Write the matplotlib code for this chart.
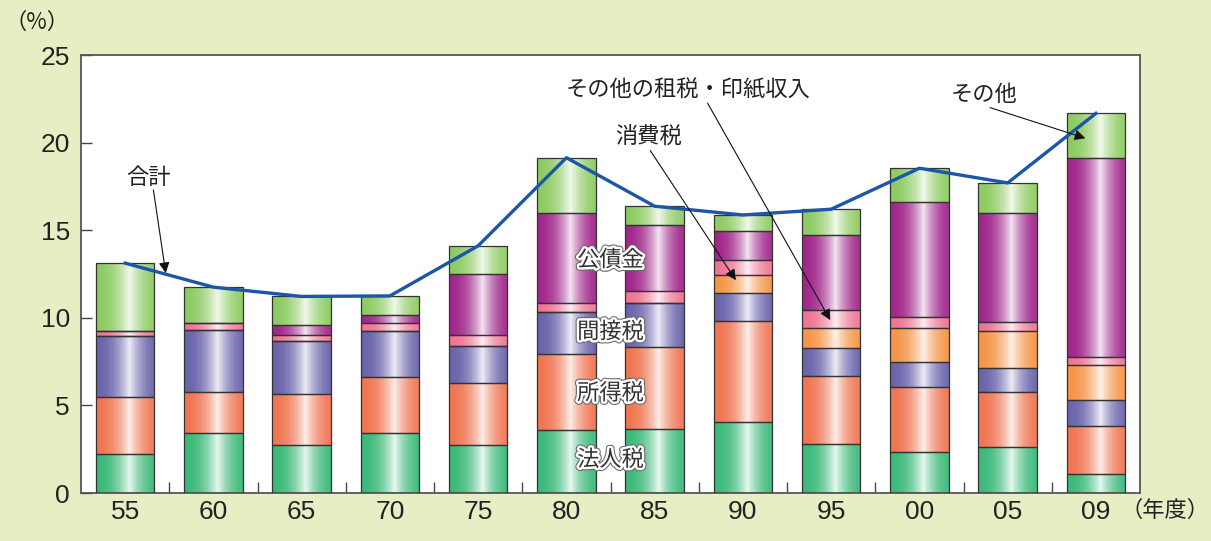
import matplotlib
matplotlib.use('Agg')
import matplotlib.pyplot as plt
import matplotlib.patheffects as pe
import matplotlib.colors as mcolors
import numpy as np

plt.rcParams['font.family'] = ['Noto Sans CJK JP', 'DejaVu Sans']

# data (% shares)
years = ['55', '60', '65', '70', '75', '80', '85', '90', '95', '00', '05', '09']
corp_tax = [2.24, 3.42, 2.76, 3.42, 2.72, 3.57, 3.65, 4.07, 2.78, 2.34, 2.62, 1.10]
income_tax = [3.24, 2.36, 2.87, 3.23, 3.55, 4.38, 4.66, 5.76, 3.91, 3.71, 3.12, 2.70]
indirect_tax = [3.46, 3.54, 3.04, 2.57, 2.13, 2.37, 2.51, 1.60, 1.58, 1.40, 1.37, 1.52]
consumption_tax = [0, 0, 0, 0, 0, 0, 0, 1.04, 1.16, 1.96, 2.11, 1.96]
other_tax = [0.32, 0.38, 0.34, 0.48, 0.63, 0.52, 0.72, 0.84, 1.03, 0.63, 0.53, 0.51]
bonds = [0, 0, 0.59, 0.45, 3.46, 5.17, 3.76, 1.63, 4.25, 6.56, 6.22, 11.32]
others = [3.86, 2.05, 1.62, 1.10, 1.62, 3.13, 1.07, 0.93, 1.49, 1.94, 1.73, 2.56]

series = [corp_tax, income_tax, indirect_tax, consumption_tax, other_tax, bonds, others]
colors = ['#3bb97a', '#f07552', '#6a64ab', '#f59548', '#ef7494', '#a1278b', '#8ecb63']

fig = plt.figure(figsize=(12.11, 5.41), dpi=100)
fig.patch.set_facecolor('#e6efc4')
ax = fig.add_axes([0.0669, 0.0887, 0.8745, 0.8096])
ax.set_facecolor('white')

x = np.arange(len(years))
width = 0.665
bottom = np.zeros(len(years))


def gradient_fill(patch, color):
    bx, by = patch.get_x(), patch.get_y()
    w, h = patch.get_width(), patch.get_height()
    if h <= 0:
        return
    t = np.linspace(0, 1, 80)
    mix = 0.88 * np.clip(1 - np.abs(t - 0.57) / 0.57, 0, 1) ** 2.2
    base = np.array(mcolors.to_rgb(color))
    img = base[None, :] * (1 - mix[:, None]) + mix[:, None]
    im = ax.imshow(img[None, :, :], extent=[bx, bx + w, by, by + h],
                   aspect='auto', zorder=2, interpolation='bilinear')
    im.set_clip_path(patch)


for vals, col in zip(series, colors):
    bars = ax.bar(x, vals, width, bottom=bottom, facecolor='none',
                  edgecolor='#333333', linewidth=0.9, zorder=3)
    for p in bars:
        gradient_fill(p, col)
    bottom += np.array(vals)

total = bottom.copy()
ax.plot(x, total, color='#1b56a8', lw=2.4, zorder=4)

ax.set_xlim(-0.5, 11.5)
ax.set_ylim(0, 25)
ax.set_yticks([0, 5, 10, 15, 20, 25])
ax.set_xticks(x)
ax.set_xticklabels(years)
ax.set_xticks(np.arange(0.5, 11, 1), minor=True)
ax.tick_params(axis='y', direction='in', length=8, width=1, color='#444',
               labelsize=19, pad=8, labelcolor='#222')
ax.tick_params(axis='x', which='major', length=0, labelsize=19, pad=5,
               labelcolor='#222')
ax.tick_params(axis='x', which='minor', direction='in', length=8, width=1,
               color='#444')
for lab in ax.get_xticklabels() + ax.get_yticklabels():
    lab.set_family('Liberation Sans')
for s in ax.spines.values():
    s.set_color('#555555')
    s.set_linewidth(1.3)

fig.text(0.004, 0.958, '（%）', fontsize=16, color='#222', ha='left', va='center')
fig.text(0.999, 0.057, '（年度）', fontsize=16, color='#222', ha='right', va='center')

halo = [pe.Stroke(linewidth=5, foreground='#666666'),
        pe.Stroke(linewidth=3.5, foreground='white'), pe.Normal()]
for label, yv in [('公債金', 13.3), ('間接税', 9.2), ('所得税', 5.7), ('法人税', 1.9)]:
    ax.text(5.5, yv, label, fontsize=16, ha='center', va='center', color='#333',
            path_effects=halo, zorder=6)

arrow = dict(arrowstyle='-|>', color='#111', lw=0.8, mutation_scale=16,
             shrinkA=0, shrinkB=0)
ax.text(0.26, 18.0, '合計', fontsize=16, ha='center', va='center', color='#222')
ax.annotate('', xy=(0.46, 12.55), xytext=(0.32, 17.3), arrowprops=arrow, zorder=5)

ax.text(6.38, 23.0, 'その他の租税・印紙収入', fontsize=16, ha='center', va='center', color='#222')
ax.annotate('', xy=(7.99, 9.87), xytext=(6.6, 22.25), arrowprops=arrow, zorder=5)

ax.text(5.93, 20.3, '消費税', fontsize=16, ha='center', va='center', color='#222')
ax.annotate('', xy=(6.92, 12.15), xytext=(5.95, 19.55), arrowprops=arrow, zorder=5)

ax.text(9.73, 22.75, 'その他', fontsize=16, ha='center', va='center', color='#222')
ax.annotate('', xy=(10.88, 20.25), xytext=(9.8, 22.0), arrowprops=arrow, zorder=5)

fig.savefig('out.png', dpi=100, facecolor=fig.get_facecolor())
